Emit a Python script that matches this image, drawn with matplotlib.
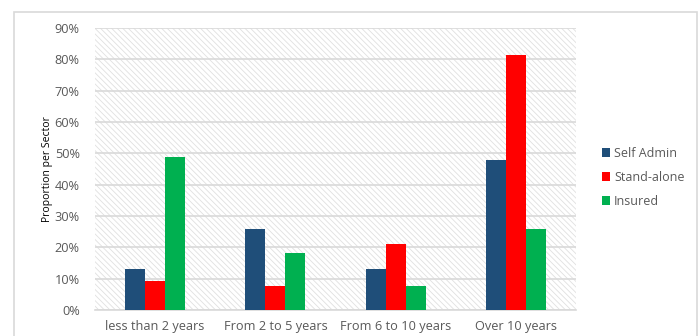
import numpy as np
import matplotlib
matplotlib.use("Agg")
import matplotlib.pyplot as plt
from matplotlib.patches import Rectangle
from matplotlib.ticker import PercentFormatter

categories = ["less than 2 years", "From 2 to 5 years", "From 6 to 10 years", "Over 10 years"]
self_admin = [13.0, 26.0, 13.0, 48.0]
stand_alone = [9.2, 7.7, 21.0, 81.4]
insured = [48.8, 18.2, 7.7, 26.0]

series = [("Self Admin", self_admin, "#1f4e79"),
          ("Stand-alone", stand_alone, "#ff0000"),
          ("Insured", insured, "#00b050")]

plt.rcParams["font.family"] = ["Open Sans", "DejaVu Sans"]
plt.rcParams["hatch.linewidth"] = 0.6

fig = plt.figure(figsize=(7, 3.36), dpi=100)
# outer chart frame
fig.patches.append(Rectangle((14/700, -0.05), 683/700, 1 - 12/336 + 0.05,
                             transform=fig.transFigure, fill=False,
                             edgecolor="#d9d9d9", lw=1.2))

ax = fig.add_axes([95/700, 1-310/336, 481/700, 282/336])
ax.set_facecolor("white")
ax.add_patch(Rectangle((0, 0), 1, 1, transform=ax.transAxes, facecolor="white",
                       edgecolor="#e0e0e0", hatch="\\\\\\\\\\\\", lw=0, zorder=0))

x = np.arange(len(categories))
w = 0.167
for i, (name, vals, col) in enumerate(series):
    ax.bar(x + (i-1)*w, vals, w, color=col, label=name, zorder=3)

ax.set_xlim(-0.5, 3.5)
ax.set_ylim(0, 90)
ax.set_yticks(np.arange(0, 91, 10))
ax.yaxis.set_major_formatter(PercentFormatter(decimals=0))
ax.set_xticks(x)
ax.set_xticklabels(categories)
ax.grid(axis="y", color="#d9d9d9", lw=1.2, zorder=1)
for s in ["top", "right", "left"]:
    ax.spines[s].set_visible(False)
ax.spines["bottom"].set_color("#d9d9d9")
ax.spines["bottom"].set_linewidth(1.2)
ax.tick_params(length=0, colors="#595959", labelsize=9.2)
ax.tick_params(axis="y", pad=11)
ax.tick_params(axis="x", pad=7)
ax.set_ylabel("Proportion per Sector", fontsize=7.5, color="black", labelpad=1)

ax.legend(loc="center left", bbox_to_anchor=(1.03, 0.47), frameon=False,
          fontsize=9, handlelength=0.7, handleheight=0.7, handletextpad=0.3,
          labelspacing=0.9, labelcolor="#595959")

plt.savefig("out.png", dpi=100)
